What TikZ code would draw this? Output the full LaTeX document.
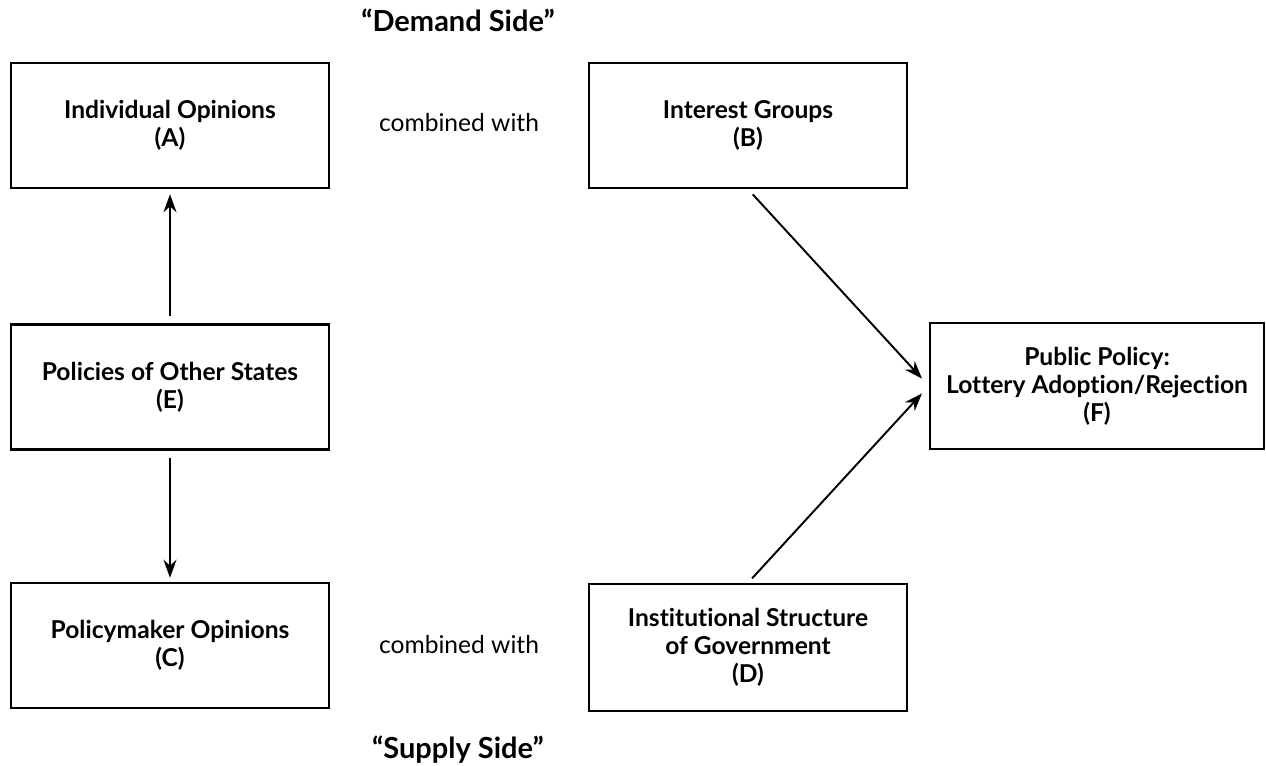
\documentclass[tikz,border=0pt]{standalone}
\usepackage{fontspec}
\setmainfont{Lato}[Ligatures=NoCommon]
\usetikzlibrary{arrows.meta}

\tikzset{
    box/.style={draw, line width=1.4pt, minimum width=6.36cm, minimum height=2.5cm,
        inner sep=0pt, align=center, font=\fontsize{14}{16}\selectfont\bfseries},
    link/.style={-{Stealth[length=3.6mm,width=2.6mm]}, line width=1.1pt},
    side/.style={anchor=base, font=\fontsize{16.5}{19}\selectfont\bfseries},
    joint/.style={anchor=base, font=\fontsize{14}{16}\selectfont}
}

\begin{document}
\begin{tikzpicture}[x=0.02cm, y=-0.02cm]
            \useasboundingbox (0,0) rectangle (1266,766);

            %Headings
            \node[side] (demand) at (458,32) {``Demand Side''};
            \node[side] (supply) at (458,758) {``Supply Side''};

            %Boxes
            \node[box] (A) at (170,125.5) {Individual Opinions\\(A)};
            \node[box] (B) at (748,125.5) {Interest Groups\\(B)};
            \node[box] (E) at (170,387) {Policies of Other States\\(E)};
            \node[box] (C) at (170,645.5) {Policymaker Opinions\\(C)};
            \node[box, minimum height=2.54cm] (D) at (748,647.5) {Institutional Structure\\of Government\\(D)};
            \node[box, minimum width=6.68cm, minimum height=2.52cm] (F) at (1097,386) {Public Policy:\\Lottery Adoption/Rejection\\(F)};

            %Links
            \node[joint] (ab) at (459,132) {combined with};
            \node[joint] (cd) at (459,653) {combined with};

            %Arrows
            \draw[link, shorten <=0.14cm, shorten >=0.1cm] (E.north) -- (A.south);
            \draw[link, shorten <=0.14cm, shorten >=0.08cm] (E.south) -- (C.north);
            \draw[link, shorten <=0.14cm, shorten >=0.2cm] (B.south) -- (F.west);
            \draw[link, shorten <=0.12cm, shorten >=0.2cm] (D.north) -- (F.west);
        \end{tikzpicture}
\end{document}
